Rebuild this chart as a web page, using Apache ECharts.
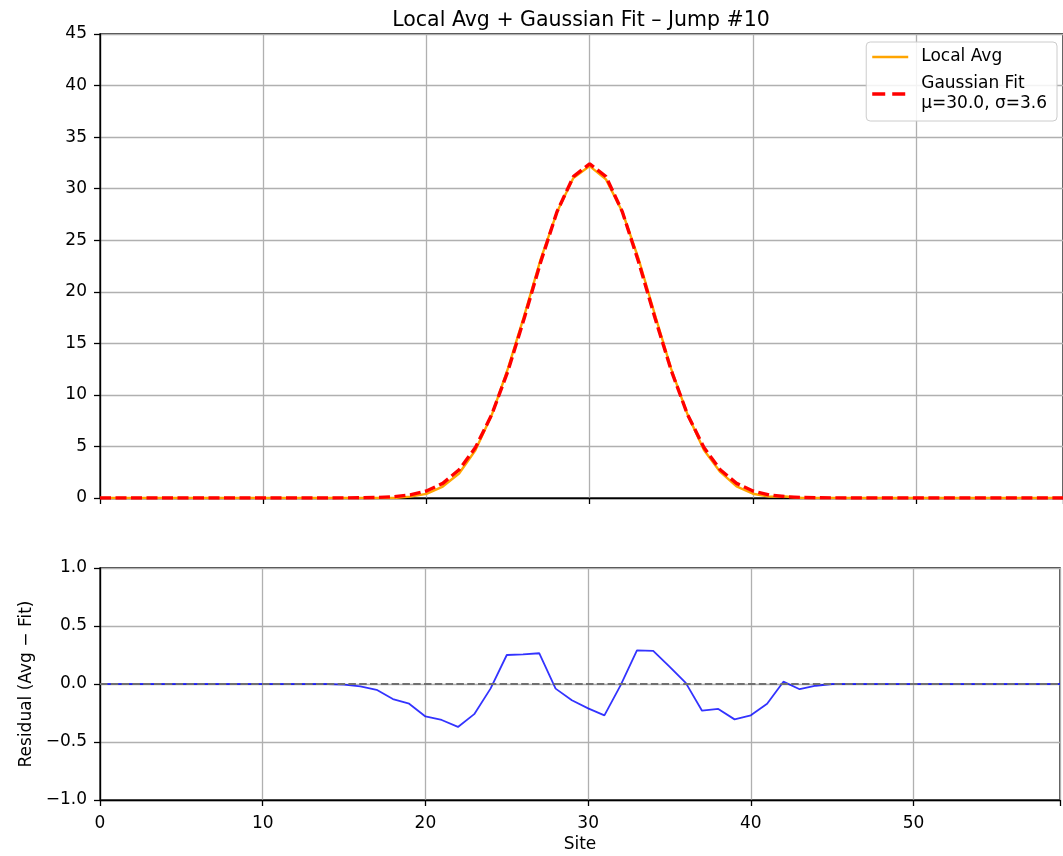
<!DOCTYPE html>
<html>
<head>
<meta charset="utf-8">
<script src="https://cdn.jsdelivr.net/npm/echarts@6/dist/echarts.min.js"></script>
<style>
html,body{margin:0;padding:0;background:#fff;}
#chart{width:1063px;height:856px;}
</style>
</head>
<body>
<div id="chart"></div>
<script>
// ---- Data ----
const sites = [0,1,2,3,4,5,6,7,8,9,10,11,12,13,14,15,16,17,18,19,20,21,22,23,24,25,26,27,28,29,30,31,32,33,34,35,36,37,38,39,40,41,42,43,44,45,46,47,48,49,50,51,52,53,54,55,56,57,58,59];
const localAvg = [0,0,0,0,0,0,0,0,0,0,0,0,0,0,0,0.005,0,0,0,0.13,0.40,1.11,2.37,4.63,8.04,12.60,17.74,23.16,27.73,31.03,32.19,30.90,27.76,23.18,17.77,12.50,8.09,4.66,2.53,1.12,0.41,0.13,0.15,0.005,0.005,0.01,0,0,0,0,0,0,0,0,0,0,0,0,0,0];
const gaussFit = [0,0,0,0,0,0,0,0,0,0,0,0,0,0,0,0.01,0.02,0.05,0.13,0.30,0.68,1.42,2.74,4.89,8.08,12.35,17.48,22.89,27.77,31.17,32.40,31.17,27.77,22.89,17.48,12.35,8.08,4.89,2.74,1.42,0.68,0.30,0.13,0.05,0.02,0.01,0,0,0,0,0,0,0,0,0,0,0,0,0,0];
const residual = [0,0,0,0,0,0,0,0,0,0,0,0,0,0,0,-0.005,-0.02,-0.05,-0.13,-0.17,-0.28,-0.31,-0.37,-0.26,-0.04,0.25,0.256,0.265,-0.04,-0.14,-0.21,-0.27,-0.01,0.29,0.285,0.15,0.01,-0.23,-0.215,-0.305,-0.27,-0.17,0.02,-0.045,-0.015,0,0,0,0,0,0,0,0,0,0,0,0,0,0,0];
const zeroLine = [[0,0],[59,0]];
const titleText = 'Local Avg + Gaussian Fit \u2013 Jump #10';
const avgName = 'Local Avg';
const fitName = 'Gaussian Fit\n\u03bc=30.0, \u03c3=3.6';

const pair = (xs, ys) => xs.map((x, i) => [x, ys[i]]);
const FONT = 'DejaVu Sans';
const minus = s => String(s).replace('-', '\u2212');

// legend glyphs (solid line / two dashes), bbox padded with degenerate points
const solidIcon = 'path://M0,0L0.01,0Z M0,5.8H36V8.2H0Z M44,14L43.99,14Z';
const dashIcon = 'path://M0,0L0.01,0Z M0,5.3H13V8.7H0Z M20,5.3H33V8.7H20Z M44,14L43.99,14Z';

const gridLine = {show: true, lineStyle: {color: '#b0b0b0', width: 1.3}};
const axLine = {show: true, onZero: false, lineStyle: {color: '#000', width: 1.3}};
const tick = {show: true, length: 6, lineStyle: {color: '#000', width: 1.3}};
const lbl = {color: '#000', fontFamily: FONT, fontSize: 17};

const chart = echarts.init(document.getElementById('chart'), null, {renderer: 'canvas'});
chart.setOption({
  animation: false,
  backgroundColor: '#fff',
  title: {
    text: titleText, left: 576, top: 5, textAlign: 'center',
    textStyle: {fontFamily: FONT, fontSize: 20.5, fontWeight: 'normal', color: '#000'}
  },
  legend: {
    data: [{name: avgName, icon: solidIcon}, {name: fitName, icon: dashIcon}],
    orient: 'vertical', right: 6, top: 42,
    itemWidth: 44, itemHeight: 14, itemGap: 7,
    padding: [5, 10, 7, 6],
    backgroundColor: 'rgba(255,255,255,0.85)',
    borderColor: '#cccccc', borderWidth: 1, borderRadius: 4,
    textStyle: {fontFamily: FONT, fontSize: 17, color: '#000', lineHeight: 20}
  },
  grid: [
    {left: 100, right: 0, top: 34, height: 464, show: true, borderColor: '#000', borderWidth: 1.3, backgroundColor: 'transparent'},
    {left: 100, right: 0, top: 568, height: 232, show: true, borderColor: '#000', borderWidth: 1.3, backgroundColor: 'transparent'}
  ],
  xAxis: [
    {type: 'value', gridIndex: 0, min: 0, max: 59, interval: 10,
     axisLine: axLine, axisTick: tick, axisLabel: {show: false}, splitLine: gridLine},
    {type: 'value', gridIndex: 1, min: 0, max: 59, interval: 10,
     axisLine: axLine, axisTick: tick,
     axisLabel: Object.assign({margin: 15, formatter: v => (v % 10 === 0 ? String(v) : '')}, lbl),
     splitLine: gridLine,
     name: 'Site', nameLocation: 'middle', nameGap: 36,
     nameTextStyle: {fontFamily: FONT, fontSize: 17, color: '#000'}}
  ],
  yAxis: [
    {type: 'value', gridIndex: 0, min: 0, max: 45, interval: 5,
     axisLine: axLine, axisTick: tick,
     axisLabel: Object.assign({margin: 13}, lbl), splitLine: gridLine},
    {type: 'value', gridIndex: 1, min: -1, max: 1, interval: 0.5,
     axisLine: axLine, axisTick: tick,
     axisLabel: Object.assign({margin: 13, formatter: v => minus(v.toFixed(1))}, lbl),
     splitLine: gridLine,
     name: 'Residual (Avg \u2212 Fit)', nameLocation: 'middle', nameGap: 56, nameRotate: 90,
     nameTextStyle: {fontFamily: FONT, fontSize: 17, color: '#000'}}
  ],
  series: [
    {name: avgName, type: 'line', xAxisIndex: 0, yAxisIndex: 0, data: pair(sites, localAvg),
     symbol: 'none', showSymbol: false, z: 3,
     lineStyle: {color: '#ffa500', width: 2.4}, itemStyle: {color: '#ffa500'}},
    {name: fitName, type: 'line', xAxisIndex: 0, yAxisIndex: 0, data: pair(sites, gaussFit),
     symbol: 'none', showSymbol: false, z: 4,
     lineStyle: {color: '#ff0000', width: 3.4, type: [11, 4.5]}, itemStyle: {color: '#ff0000'}},
    {name: 'Residual', type: 'line', xAxisIndex: 1, yAxisIndex: 1, data: pair(sites, residual),
     symbol: 'none', showSymbol: false, z: 3,
     lineStyle: {color: 'rgba(0,0,255,0.8)', width: 1.8}},
    {name: 'zero', type: 'line', xAxisIndex: 1, yAxisIndex: 1, data: zeroLine,
     symbol: 'none', showSymbol: false, z: 4, silent: true,
     lineStyle: {color: '#707070', width: 2, type: [7.5, 3.3]}}
  ]
});
</script>
</body>
</html>
